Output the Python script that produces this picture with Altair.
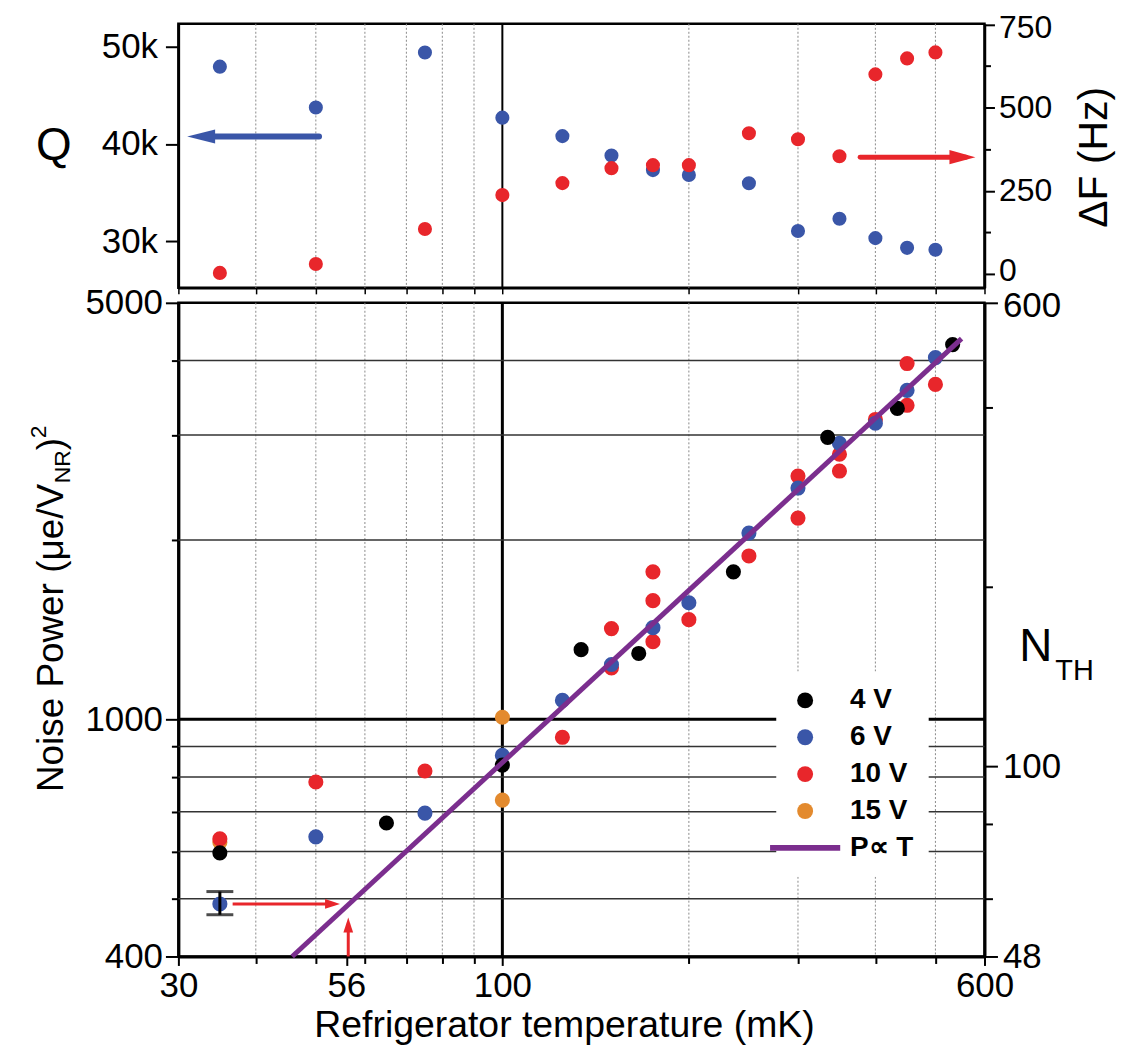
import altair as alt
import pandas as pd

FONT = "Liberation Sans"
BLACK = "#000000"
BLUE = "#3a56a8"
RED = "#e8262b"
ORANGE = "#e38a2e"
PURPLE = "#7b2e8e"

# ---------------- top panel data ----------------
top_T = [35, 50, 75, 100, 125, 150, 175, 200, 250, 300, 350, 400, 450, 500]
top_Q = [47950, 43740, 49400, 42700, 40800, 38800, 37300, 36800, 35950, 31030, 32300, 30300, 29300, 29100]
top_dF = [3, 30, 135, 237, 273, 318, 327, 327, 423, 405, 354, 600, 648, 666]

q_arrow_T = [50.6]
q_arrow_T2 = [33.5]
q_arrow_tip = [31.0]
q_arrow_Q = [40770]

f_arrow_T = [378]
f_arrow_T2 = [560]
f_arrow_tip = [580]
f_arrow_F = [351]

# ---------------- bottom panel data ----------------
v4_T = [35, 65, 100, 134, 166, 236, 335, 434, 533]
v4_P = [597, 670, 838, 1309, 1290, 1768, 2973, 3325, 4255]
v6_T = [35, 50, 75, 100, 125, 150, 175, 200, 250, 300, 350, 400, 450, 500]
v6_P = [490, 635, 696, 870, 1076, 1236, 1425, 1569, 2054, 2444, 2904, 3140, 3565, 4046]
v10_T = [35, 50, 75, 125, 150, 150, 175, 175, 175, 200, 250, 300, 300, 350, 350, 400, 450, 450, 500]
v10_P = [630, 785, 819, 933, 1420, 1220, 1768, 1582, 1350, 1470, 1880, 2560, 2176, 2785, 2610, 3186, 3365, 3954, 3648]
v15_T = [35, 100, 100]
v15_P = [622, 1008, 732]

fit_T = [45.8, 551]
fit_P = [400, 4354]

err_T = [35]
err_lo = [470]
err_hi = [514]

h_arrow_T = [36.7]
h_arrow_T2 = [52.0]
h_arrow_tip = [54.7]
h_arrow_P = [490]

v_arrow_T = [56.4]
v_arrow_P = [400]
v_arrow_P2 = [452]
v_arrow_tip = [465]

series_names = ["4 V", "6 V", "10 V", "15 V", "P\u221d T"]
series_colors = [BLACK, BLUE, RED, ORANGE, PURPLE]
LINE_SYMBOL = "M-4.4,-0.35L4.4,-0.35L4.4,0.35L-4.4,0.35Z"

# ticks / grids
x_ticks = [30, 40, 50, 56, 60, 70, 80, 90, 100, 200, 300, 400, 500, 600]
x_ticks_top = [30, 40, 50, 60, 70, 80, 90, 100, 200, 300, 400, 500, 600]
x_labels = [30, 56, 100, 600]
grid_T_minor = [40, 50, 60, 70, 80, 90, 200, 300, 400, 500]
grid_T_major = [100]
p_ticks = [400, 500, 600, 700, 800, 900, 1000, 2000, 3000, 4000, 5000]
p_labels = [400, 1000, 5000]
grid_P_minor = [500, 600, 700, 800, 900, 2000, 3000, 4000]
grid_P_major = [1000]
n_ticks = [48, 60, 80, 100, 200, 400, 600]
n_labels = [48, 100, 600]
q_ticks = [30000, 40000, 50000]
f_ticks = [0, 125, 250, 375, 500, 625, 750]


def in_list(vals):
    return "||".join(f"datum.value=={v}" for v in vals)


xs = alt.Scale(type="log", domain=[30, 600], nice=False)
qs = alt.Scale(domain=[25180, 52360], nice=False, zero=False)
fs = alt.Scale(domain=[-42, 752], nice=False, zero=False)
ps = alt.Scale(type="log", domain=[400, 5000], nice=False)
ns = alt.Scale(type="log", domain=[48, 600], nice=False)


def text_layer(txt, x, y, size, angle=0, align="left", baseline="alphabetic", weight="normal"):
    return alt.Chart(pd.DataFrame({"t": [txt]})).mark_text(
        font=FONT, fontSize=size, angle=angle, align=align, baseline=baseline,
        fontWeight=weight, color="black"
    ).encode(x=alt.value(x), y=alt.value(y), text="t:N")


# ================= axes =================
xaxis_top = alt.Axis(values=x_ticks_top, labels=False, ticks=True, tickSize=6, title=None,
                     domainWidth=2.5, tickWidth=1.5, grid=False)
q_axis = alt.Axis(values=q_ticks, labelExpr="format(datum.value/1000,'d')+'k'", tickSize=13,
                  labelPadding=8, labelFontSize=35, title=None, orient="left", grid=False,
                  labelFlush=False, domainWidth=2.5, tickWidth=2)
f_axis = alt.Axis(values=f_ticks, labelExpr="datum.value % 250 == 0 ? datum.value : ''",
                  tickSize={"condition": {"test": "datum.value % 250 == 0", "value": 10}, "value": 6},
                  labelPadding=4, labelFontSize=32, title=None, orient="right", grid=False,
                  labelFlush=False, domainWidth=2.5, tickWidth=2,
                  labelOffset={"condition": [{"test": "datum.value == 0", "value": -3},
                                             {"test": "datum.value == 750", "value": 3}], "value": 0})
xaxis_bottom = alt.Axis(
    values=x_ticks, labelExpr=f"({in_list(x_labels)}) ? datum.value : ''",
    labelFontSize=35, labelFlush=False, labelOverlap=False, labelPadding=3,
    tickSize={"condition": {"test": in_list(x_labels), "value": 9}, "value": 7},
    tickWidth=2, domainWidth=3, grid=False,
    title="Refrigerator temperature (mK)", titleFontSize=37.5, titleFontWeight="normal",
    titleX=387, titleY=80, titleBaseline="alphabetic", titleAlign="center",
)
yaxis_left = alt.Axis(
    values=p_ticks, labelExpr=f"({in_list(p_labels)}) ? datum.value : ''",
    labelFontSize=35, labelFlush=False, labelOverlap=False, labelPadding=3,
    tickSize={"condition": {"test": in_list(p_labels), "value": 13}, "value": 7},
    tickWidth=2, domainWidth=3, grid=False, title=None, orient="left",
)
yaxis_right = alt.Axis(
    values=n_ticks, labelExpr=f"({in_list(n_labels)}) ? datum.value : ''",
    labelFontSize=35, labelFlush=False, labelOverlap=False, labelPadding=5,
    tickSize={"condition": {"test": in_list(n_labels), "value": 13}, "value": 8},
    tickWidth=2, domainWidth=3, grid=False, title=None, orient="right",
    labelOffset={"condition": {"test": "datum.value == 600", "value": 3}, "value": 0},
)

XT = lambda f="T:Q": alt.X(f, scale=xs, axis=xaxis_top)
XB = lambda f="T:Q": alt.X(f, scale=xs, axis=xaxis_bottom)
YQ = lambda f: alt.Y(f, scale=qs, axis=q_axis)
YF = lambda f: alt.Y(f, scale=fs, axis=f_axis)
YP = lambda f: alt.Y(f, scale=ps, axis=yaxis_left)

# ================= TOP PANEL =================
top_df = pd.DataFrame({"T": top_T, "Q": top_Q, "dF": top_dF})

t_grid_minor = alt.Chart(pd.DataFrame({"T": grid_T_minor})).mark_rule(
    color="#8a8a8a", strokeDash=[2, 2], strokeWidth=1
).encode(x=XT())
t_grid_major = alt.Chart(pd.DataFrame({"T": grid_T_major})).mark_rule(
    color="black", strokeWidth=2
).encode(x=XT())

q_points = alt.Chart(top_df).mark_point(filled=True, size=200, color=BLUE, opacity=1).encode(
    x=XT(), y=YQ("Q:Q")
)
q_shaft = alt.Chart(pd.DataFrame({"T": q_arrow_T, "T2": q_arrow_T2, "Q": q_arrow_Q})).mark_rule(
    color=BLUE, strokeWidth=6, strokeCap="round"
).encode(x=XT(), x2="T2:Q", y=YQ("Q:Q"))
q_head = alt.Chart(pd.DataFrame({"T": q_arrow_tip, "Q": q_arrow_Q})).mark_point(
    shape="M0,0L2,-0.5L2,0.5Z", size=784, filled=True, color=BLUE, opacity=1
).encode(x=XT(), y=YQ("Q:Q"))
q_title = text_layer("Q", -125, 123, 46, align="center", baseline="middle")

f_points = alt.Chart(top_df).mark_point(filled=True, size=200, color=RED, opacity=1).encode(
    x=XT(), y=YF("dF:Q")
)
f_shaft = alt.Chart(pd.DataFrame({"T": f_arrow_T, "T2": f_arrow_T2, "F": f_arrow_F})).mark_rule(
    color=RED, strokeWidth=5, strokeCap="round"
).encode(x=XT(), x2="T2:Q", y=YF("F:Q"))
f_head = alt.Chart(pd.DataFrame({"T": f_arrow_tip, "F": f_arrow_F})).mark_point(
    shape="M0,0L-2,-0.55L-2,0.55Z", size=676, filled=True, color=RED, opacity=1
).encode(x=XT(), y=YF("F:Q"))
f_title = text_layer("\u0394F (Hz)", 932, 134, 41, angle=270, align="center")

top = alt.layer(
    alt.layer(t_grid_minor, t_grid_major, q_points, q_shaft, q_head, q_title),
    alt.layer(f_points, f_shaft, f_head, f_title),
).resolve_scale(y="independent").properties(width=809, height=265)

# ================= BOTTOM PANEL =================
rows = []
for name, Ts, Ps in [("15 V", v15_T, v15_P), ("10 V", v10_T, v10_P), ("6 V", v6_T, v6_P), ("4 V", v4_T, v4_P)]:
    for t, p in zip(Ts, Ps):
        rows.append({"T": t, "P": p, "series": name})
pts_df = pd.DataFrame(rows)

b_grid_minor = alt.Chart(pd.DataFrame({"T": grid_T_minor})).mark_rule(
    color="#8a8a8a", strokeDash=[2, 2], strokeWidth=1
).encode(x=XB())
b_grid_major = alt.Chart(pd.DataFrame({"T": grid_T_major})).mark_rule(
    color="black", strokeWidth=3
).encode(x=XB())
h_grid_minor = alt.Chart(pd.DataFrame({"P": grid_P_minor})).mark_rule(
    color="#333333", strokeWidth=1.5
).encode(y=YP("P:Q"))
h_grid_major = alt.Chart(pd.DataFrame({"P": grid_P_major})).mark_rule(
    color="black", strokeWidth=3
).encode(y=YP("P:Q"))

legend = alt.Legend(
    title=None, orient="none", legendX=600, legendY=650, fillColor="white", padding=15,
    labelFont=FONT, labelFontSize=28, labelFontWeight="bold", labelColor="black",
    symbolSize=256, labelOffset=31, rowPadding=9, symbolStrokeWidth=0, symbolOpacity=1,
)
points = alt.Chart(pts_df).mark_point(filled=True, size=230, opacity=1).encode(
    x=XB(),
    y=YP("P:Q"),
    color=alt.Color("series:N", scale=alt.Scale(domain=series_names, range=series_colors), legend=legend),
    shape=alt.Shape("series:N", scale=alt.Scale(domain=series_names,
                                                range=["circle", "circle", "circle", "circle", LINE_SYMBOL]),
                    legend=legend),
)

err_df = pd.DataFrame({"T": err_T, "lo": err_lo, "hi": err_hi})
err_rule = alt.Chart(err_df).mark_rule(color="black", strokeWidth=3).encode(
    x=XB(), y=YP("lo:Q"), y2="hi:Q"
)
err_cap_lo = alt.Chart(err_df).mark_tick(color="black", orient="horizontal", size=27, thickness=3).encode(
    x=XB(), y=YP("lo:Q")
)
err_cap_hi = alt.Chart(err_df).mark_tick(color="black", orient="horizontal", size=27, thickness=3).encode(
    x=XB(), y=YP("hi:Q")
)

fit = alt.Chart(pd.DataFrame({"T": fit_T, "P": fit_P})).mark_line(color=PURPLE, strokeWidth=5).encode(
    x=XB(), y=YP("P:Q")
)

h_shaft = alt.Chart(pd.DataFrame({"T": h_arrow_T, "T2": h_arrow_T2, "P": h_arrow_P})).mark_rule(
    color=RED, strokeWidth=3
).encode(x=XB(), x2="T2:Q", y=YP("P:Q"))
h_head = alt.Chart(pd.DataFrame({"T": h_arrow_tip, "P": h_arrow_P})).mark_point(
    shape="M0,0L-2,-0.65L-2,0.65Z", size=225, filled=True, color=RED, opacity=1
).encode(x=XB(), y=YP("P:Q"))
v_shaft = alt.Chart(pd.DataFrame({"T": v_arrow_T, "P": v_arrow_P, "P2": v_arrow_P2})).mark_rule(
    color=RED, strokeWidth=3
).encode(x=XB(), y=YP("P:Q"), y2="P2:Q")
v_head = alt.Chart(pd.DataFrame({"T": v_arrow_T, "P": v_arrow_tip})).mark_point(
    shape="M0,0L-0.65,2L0.65,2Z", size=225, filled=True, color=RED, opacity=1
).encode(x=XB(), y=YP("P:Q"))

# y-title pieces (rotated), N_TH title
yt_main = text_layer("Noise Power (\u03bce/V", -116, 491, 37, angle=270)
yt_sub = text_layer("NR", -109, 181, 23, angle=270)
yt_par = text_layer(")", -116, 148, 37, angle=270)
yt_sup = text_layer("2", -133, 136, 23, angle=270)
n_main = text_layer("N", 844, 359, 46)
n_sub = text_layer("TH", 880, 379, 29)

dummy_right = alt.Chart(pd.DataFrame({"N": [48, 600]})).mark_point(opacity=0).encode(
    y=alt.Y("N:Q", scale=ns, axis=yaxis_right)
)

bottom_inner = alt.layer(
    b_grid_minor, b_grid_major, h_grid_minor, h_grid_major,
    points, err_rule, err_cap_lo, err_cap_hi, fit,
    h_shaft, h_head, v_shaft, v_head,
    yt_main, yt_sub, yt_par, yt_sup, n_main, n_sub,
)
bottom = alt.layer(bottom_inner, dummy_right).resolve_scale(y="independent").properties(width=809, height=656)

chart = alt.vconcat(top, bottom, spacing=15, bounds="flush").properties(
    padding={"top": 0, "left": 18, "right": 5, "bottom": 5}
).configure_view(stroke="black", strokeWidth=2.5).configure_axis(
    labelFont=FONT, titleFont=FONT, domainColor="black", tickColor="black", labelColor="black",
    titleColor="black",
)

chart.save("out.html", embed_options={"renderer": "svg", "actions": False})
